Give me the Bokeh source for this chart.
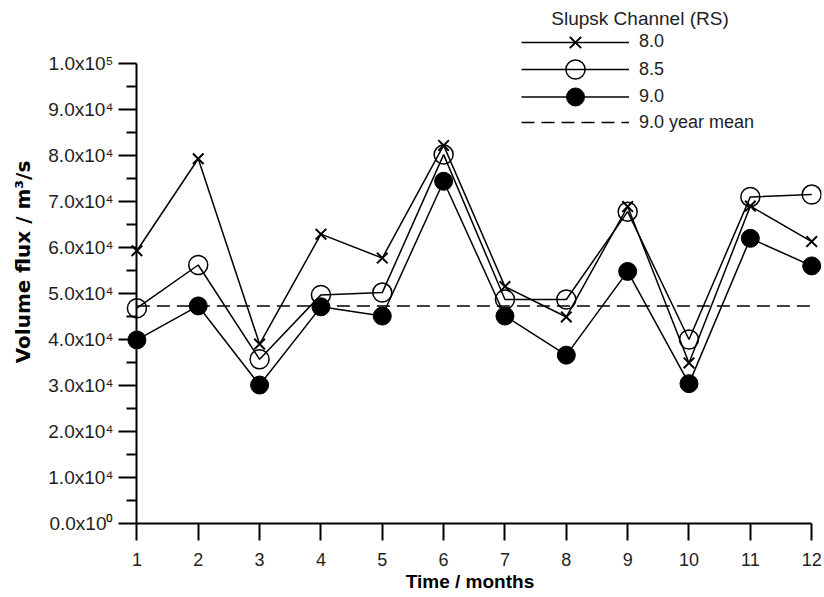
import math
from bokeh.plotting import figure
from bokeh.models import Range1d, FixedTicker, Legend, LegendItem, Label, LinearAxis
from bokeh.embed import file_html
from bokeh.resources import INLINE

# ---- data ----
months = [1, 2, 3, 4, 5, 6, 7, 8, 9, 10, 11, 12]
rs_80 = [59300, 79300, 39000, 62900, 57700, 82200, 51500, 44900, 68900, 34900, 69000, 61300]
rs_85 = [46800, 56200, 35700, 49700, 50200, 80200, 48700, 48700, 67800, 40000, 71000, 71500]
rs_90 = [39900, 47300, 30100, 47100, 45100, 74400, 45100, 36600, 54800, 30400, 62000, 56000]
mean_90 = 47300

y_ticks = [0, 10000, 20000, 30000, 40000, 50000, 60000, 70000, 80000, 90000, 100000]
y_minor = [5000, 15000, 25000, 35000, 45000, 55000, 65000, 75000, 85000, 95000]
y_tick_labels = ["0.0x10⁰", "1.0x10⁴", "2.0x10⁴", "3.0x10⁴", "4.0x10⁴", "5.0x10⁴",
                 "6.0x10⁴", "7.0x10⁴", "8.0x10⁴", "9.0x10⁴", "1.0x10⁵"]
legend_title = "Slupsk Channel (RS)"
series_labels = ["8.0", "8.5", "9.0", "9.0 year mean"]

FONT = "Liberation Sans"
TXT = "#1e1e1e"
FL = 118  # frame left (px)
FB = 523  # frame bottom (px)

p = figure(frame_width=703, frame_height=523,
           x_range=Range1d(0.7, 12.16), y_range=Range1d(0, 113700),
           output_backend="svg", toolbar_location=None,
           x_axis_location=None, y_axis_location=None,
           min_border_left=FL, min_border_right=2,
           min_border_top=0, min_border_bottom=40)
p.outline_line_color = None
p.xgrid.visible = False
p.ygrid.visible = False

# x axis
xaxis = LinearAxis(ticker=FixedTicker(ticks=months, minor_ticks=[]), bounds=(1, 12),
                   axis_label="Time / months")
xaxis.axis_line_width = 2
xaxis.major_tick_line_width = 2
xaxis.major_tick_out = 17
xaxis.major_tick_in = 0
xaxis.minor_tick_out = 0
xaxis.minor_tick_in = 0
xaxis.major_label_standoff = 12
xaxis.major_label_text_font = FONT
xaxis.major_label_text_font_size = "18px"
xaxis.major_label_text_color = TXT
xaxis.axis_label_text_font = FONT
xaxis.axis_label_text_font_size = "19px"
xaxis.axis_label_text_font_style = "bold"
xaxis.axis_label_text_color = "black"
xaxis.axis_label_standoff = 2
p.add_layout(xaxis, "below")

# y axis: labels, major ticks (drawn inwards up to x = 1) and title at frame edge
ylab_axis = LinearAxis(ticker=FixedTicker(ticks=y_ticks, minor_ticks=[]),
                       axis_label="Volume flux / m³/s")
ylab_axis.major_label_overrides = {t: l for t, l in zip(y_ticks, y_tick_labels)}
ylab_axis.axis_line_color = None
ylab_axis.major_tick_line_width = 2
ylab_axis.major_tick_out = 0
ylab_axis.major_tick_in = 18
ylab_axis.minor_tick_out = 0
ylab_axis.minor_tick_in = 0
ylab_axis.major_label_standoff = 5
ylab_axis.major_label_text_font = FONT
ylab_axis.major_label_text_font_size = "19px"
ylab_axis.major_label_text_color = TXT
ylab_axis.axis_label_text_font = "DejaVu Sans"
ylab_axis.axis_label_text_font_size = "20px"
ylab_axis.axis_label_text_font_style = "bold"
ylab_axis.axis_label_text_color = "black"
ylab_axis.axis_label_standoff = 10
p.add_layout(ylab_axis, "left")

# y axis: line and minor ticks at x = 1
yaxis = LinearAxis(ticker=FixedTicker(ticks=[], minor_ticks=y_minor), bounds=(0, 100000),
                   fixed_location=months[0])
yaxis.axis_line_width = 2
yaxis.major_tick_out = 0
yaxis.major_tick_in = 0
yaxis.minor_tick_line_width = 2
yaxis.minor_tick_out = 10
yaxis.minor_tick_in = 0
p.add_layout(yaxis, "left")

# series
mean_r = p.line([months[0], months[-1]], [mean_90, mean_90], line_color="black",
                line_width=1.6, line_dash="13 7")
l90 = p.line(months, rs_90, line_color="black", line_width=1.5)
s90 = p.scatter(months, rs_90, marker="circle", size=18, fill_color="black",
                line_color="black", line_width=1)
l85 = p.line(months, rs_85, line_color="black", line_width=1.5)
s85 = p.scatter(months, rs_85, marker="circle", size=19, fill_color=None,
                line_color="black", line_width=1.5)
l80 = p.line(months, rs_80, line_color="black", line_width=1.5)
s80 = p.scatter(months, rs_80, marker="x", size=15, line_color="black", line_width=2)

# legend: one row per legend so each marker keeps its own size
rows = [
    (series_labels[0], [l80, s80], 40, 41.7),
    (series_labels[1], [l85, s85], 48, 69.3),
    (series_labels[2], [l90, s90], 45, 96.0),
    (series_labels[3], [mean_r], 20, 122.7),
]
for label, rends, gh, cy in rows:
    lg = Legend(items=[LegendItem(label=label, renderers=rends)],
                location=(521 - FL, FB - (cy + gh / 2)))
    lg.glyph_width = 108
    lg.glyph_height = gh
    lg.label_height = 20
    lg.label_standoff = 10
    lg.padding = 0
    lg.margin = 0
    lg.border_line_color = None
    lg.background_fill_alpha = 0
    lg.label_text_font = FONT
    lg.label_text_font_size = "18px"
    lg.label_text_color = TXT
    p.add_layout(lg, "center")

title = Label(x=639.5 - FL, y=FB - 18, x_units="screen", y_units="screen", text=legend_title,
              text_align="center", text_baseline="middle", text_font=FONT,
              text_font_size="19px", text_color=TXT)
p.add_layout(title)

open("out.html", "w").write(file_html(p, INLINE))
